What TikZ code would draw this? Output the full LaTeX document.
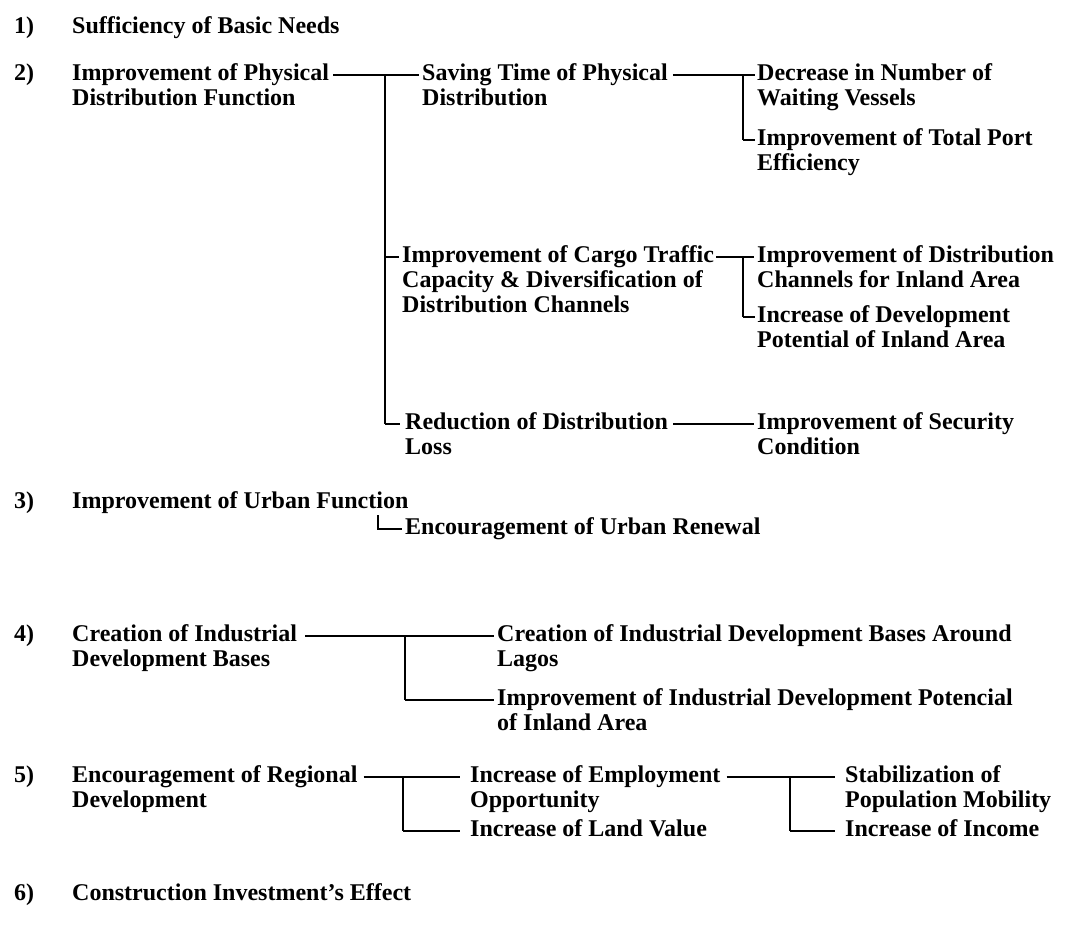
\documentclass[tikz,border=0pt]{standalone}
\usepackage{fontspec}
\setmainfont{Liberation Serif}
\usetikzlibrary{calc}

\newcommand{\diagfont}{\fontsize{24}{25}\selectfont\bfseries}

\tikzset{
    txt/.style={anchor=north west, inner sep=0pt, align=left, yshift=12pt,
        font=\diagfont, execute at begin node=\strut},
    hline/.style={line width=1.5pt},
    bus/.style={line width=2.8pt},
}

\begin{document}
\begin{tikzpicture}[x=1pt, y=-1pt]

    \useasboundingbox (0, 0) rectangle (1071, 940);

    % Numbers
    \node[txt] (n1) at (14, 28) {1)};
    \node[txt] (n2) at (14, 75) {2)};
    \node[txt] (n3) at (14, 503) {3)};
    \node[txt] (n4) at (14, 636) {4)};
    \node[txt] (n5) at (14, 777) {5)};
    \node[txt] (n6) at (14, 895) {6)};

    % 1)
    \node[txt] (basic) at (72, 28) {Sufficiency of Basic Needs};

    % 2)
    \node[txt] (physical) at (72, 75) {Improvement of Physical\\Distribution Function};
    \node[txt] (saving) at (422, 75) {Saving Time of Physical\\Distribution};
    \node[txt] (decrease) at (757, 75) {Decrease in Number of\\Waiting Vessels};
    \node[txt] (totalport) at (757, 140) {Improvement of Total Port\\Efficiency};
    \node[txt] (cargo) at (402, 257) {Improvement of Cargo Traffic\\Capacity \& Diversification of\\Distribution Channels};
    \node[txt] (channels) at (757, 257) {Improvement of Distribution\\Channels for Inland Area};
    \node[txt] (inlanddev) at (757, 317) {Increase of Development\\Potential of Inland Area};
    \node[txt] (reduction) at (405, 424) {Reduction of Distribution\\Loss};
    \node[txt] (security) at (757, 424) {Improvement of Security\\Condition};

    \coordinate (physR) at ($(physical.north east)+(4, 12)$);
    \coordinate (savL) at ($(saving.north west)+(-3, 12)$);
    \coordinate (savR) at ($(saving.north east)+(5, 12)$);
    \coordinate (decL) at ($(decrease.north west)+(-2, 12)$);
    \coordinate (portL) at ($(totalport.north west)+(-2, 12)$);
    \coordinate (cargoL) at ($(cargo.north west)+(-3, 12)$);
    \coordinate (cargoR) at ($(cargo.north east)+(2, 12)$);
    \coordinate (chanL) at ($(channels.north west)+(-3, 12)$);
    \coordinate (inldL) at ($(inlanddev.north west)+(-2, 12)$);
    \coordinate (redL) at ($(reduction.north west)+(-5, 12)$);
    \coordinate (redR) at ($(reduction.north east)+(5, 12)$);
    \coordinate (secL) at ($(security.north west)+(-3, 12)$);
    \coordinate (b1) at (385, 0);
    \coordinate (b2) at (743, 0);

    \draw[hline] (physR) -- (savL);
    \draw[bus] (b1 |- physR) -- (b1 |- redL);
    \draw[hline] (b1 |- cargoL) -- (cargoL);
    \draw[hline] (b1 |- redL) -- (redL);

    \draw[hline] (savR) -- (decL);
    \draw[bus] (b2 |- savR) -- (b2 |- portL);
    \draw[hline] (b2 |- portL) -- (portL);

    \draw[hline] (cargoR) -- (chanL);
    \draw[bus] (b2 |- cargoR) -- (b2 |- inldL);
    \draw[hline] (b2 |- inldL) -- (inldL);

    \draw[hline] (redR) -- (secL);

    % 3)
    \node[txt] (urban) at (72, 503) {Improvement of Urban Function};
    \node[txt] (renewal) at (405, 529) {Encouragement of Urban Renewal};

    \coordinate (c3) at (378, 515);
    \coordinate (renL) at ($(renewal.north west)+(-3, 12)$);
    \draw[hline] (c3) -- (c3 |- renL) -- (renL);

    % 4)
    \node[txt] (industrial) at (72, 636) {Creation of Industrial\\Development Bases};
    \node[txt] (aroundlagos) at (497, 636) {Creation of Industrial Development Bases Around\\Lagos};
    \node[txt] (inlandind) at (497, 700) {Improvement of Industrial Development Potencial\\of Inland Area};

    \coordinate (indR) at ($(industrial.north east)+(8, 12)$);
    \coordinate (lagL) at ($(aroundlagos.north west)+(-3, 12)$);
    \coordinate (potL) at ($(inlandind.north west)+(-3, 12)$);
    \coordinate (b4) at (405, 0);

    \draw[hline] (indR) -- (lagL);
    \draw[bus] (b4 |- indR) -- (b4 |- potL);
    \draw[hline] (b4 |- potL) -- (potL);

    % 5)
    \node[txt] (regional) at (72, 777) {Encouragement of Regional\\Development};
    \node[txt] (employment) at (470, 777) {Increase of Employment\\Opportunity};
    \node[txt] (landvalue) at (470, 831) {Increase of Land Value};
    \node[txt] (mobility) at (845, 777) {Stabilization of\\Population Mobility};
    \node[txt] (income) at (845, 831) {Increase of Income};

    \coordinate (regR) at ($(regional.north east)+(6, 12)$);
    \coordinate (empL) at ($(employment.north west)+(-10, 12)$);
    \coordinate (empR) at ($(employment.north east)+(6, 12)$);
    \coordinate (landL) at ($(landvalue.north west)+(-10, 12)$);
    \coordinate (mobL) at ($(mobility.north west)+(-10, 12)$);
    \coordinate (incL) at ($(income.north west)+(-10, 12)$);
    \coordinate (b5) at (403, 0);
    \coordinate (b6) at (790, 0);

    \draw[hline] (regR) -- (empL);
    \draw[bus] (b5 |- regR) -- (b5 |- landL);
    \draw[hline] (b5 |- landL) -- (landL);

    \draw[hline] (empR) -- (mobL);
    \draw[bus] (b6 |- empR) -- (b6 |- incL);
    \draw[hline] (b6 |- incL) -- (incL);

    % 6)
    \node[txt] (invest) at (72, 895) {Construction Investment's Effect};

\end{tikzpicture}
\end{document}
